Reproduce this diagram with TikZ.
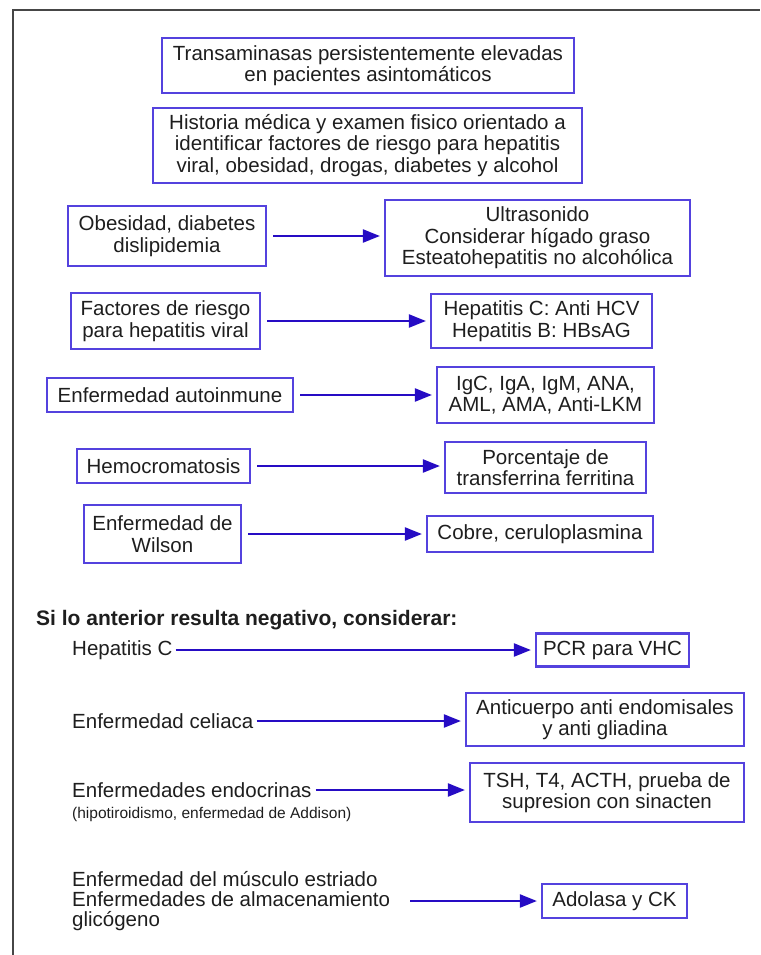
\documentclass[tikz,border=0pt]{standalone}
\usepackage{fontspec}
\setmainfont{Liberation Sans}
\usetikzlibrary{arrows.meta}

\definecolor{cajaazul}{RGB}{84,66,222}
\definecolor{flechaazul}{RGB}{38,12,196}
\definecolor{texto}{RGB}{30,30,30}
\definecolor{marco}{RGB}{70,70,70}

\tikzset{
  caja/.style={draw=cajaazul, line width=2.2pt, align=center, inner sep=0pt, text=texto},
  rotulo/.style={align=left, inner sep=0pt, text=texto, anchor=west},
  flecha/.style={draw=flechaazul, line width=2.2pt, -{Triangle[length=17pt,width=13pt]}, shorten >=4pt, shorten <=6pt},
}

\begin{document}
\begin{tikzpicture}[x=1pt, y=-1pt, font=\fontsize{20.5}{21.5}\selectfont]
\useasboundingbox (0,0) rectangle (760,955);

% marco
\draw [marco, line width=2.8pt] (13,955) -- (13,10) -- (760,10);

% cabecera
\node [caja, minimum width=412, minimum height=55] (trans) at (368,65.5)
  {Transaminasas persistentemente elevadas\\en pacientes asintomáticos};
\node [caja, minimum width=429, minimum height=75] (hist) at (367.5,145.5)
  {Historia médica y examen fisico orientado a\\identificar factores de riesgo para hepatitis\\viral, obesidad, drogas, diabetes y alcohol};

% factores de riesgo
\node [caja, minimum width=198, minimum height=60] (obes) at (167,236) {Obesidad, diabetes\\dislipidemia};
\node [caja, minimum width=305, minimum height=76] (ultra) at (537.5,238)
  {Ultrasonido\\Considerar hígado graso\\Esteatohepatitis no alcohólica};
\node [caja, minimum width=189, minimum height=56] (fact) at (165.5,321) {Factores de riesgo\\para hepatitis viral};
\node [caja, minimum width=221, minimum height=54] (hcv) at (541.5,321) {Hepatitis C: Anti HCV\\Hepatitis B: HBsAG};
\node [caja, minimum width=246, minimum height=34] (auto) at (170,395) {Enfermedad autoinmune};
\node [caja, minimum width=217, minimum height=56] (igc) at (545.5,395) {IgC, IgA, IgM, ANA,\\AML, AMA, Anti-LKM};
\node [caja, minimum width=173, minimum height=34] (hemo) at (163.5,466) {Hemocromatosis};
\node [caja, minimum width=201, minimum height=51] (porc) at (545.5,467.5) {Porcentaje de\\transferrina ferritina};
\node [caja, minimum width=157, minimum height=58] (wils) at (162.5,534) {Enfermedad de\\Wilson};
\node [caja, minimum width=226, minimum height=36] (cobre) at (540,534) {Cobre, ceruloplasmina};

\draw [flecha] (obes.east) -- (obes.east -| ultra.west);
\draw [flecha] (fact.east) -- (fact.east -| hcv.west);
\draw [flecha] (auto.east) -- (auto.east -| igc.west);
\draw [flecha] (hemo.east) -- (hemo.east -| porc.west);
\draw [flecha] (wils.east) -- (wils.east -| cobre.west);

% si resulta negativo
\node [rotulo, font=\fontsize{21}{22}\selectfont\bfseries] (neg) at (36,620) {Si lo anterior resulta negativo, considerar:};

\node [rotulo] (hepc) at (72,650) {Hepatitis C};
\node [caja, minimum width=153, minimum height=33] (pcr) at (612.5,650) {PCR para VHC};
\node [rotulo] (celi) at (72,721) {Enfermedad celiaca};
\node [caja, minimum width=278, minimum height=53] (anti) at (605,719.5) {Anticuerpo anti endomisales\\y anti gliadina};
\node [rotulo] (endo) at (72,790) {Enfermedades endocrinas};
\node [rotulo, font=\fontsize{15.5}{17}\selectfont] (hipo) at (72,814) {(hipotiroidismo, enfermedad de Addison)};
\node [caja, minimum width=274, minimum height=59] (tsh) at (607,792.5) {TSH, T4, ACTH, prueba de\\supresion con sinacten};
\node [rotulo, font=\fontsize{20.5}{20}\selectfont] (musc) at (72,901)
  {Enfermedad del músculo estriado\\Enfermedades de almacenamiento\\glicógeno};
\node [caja, minimum width=145, minimum height=34] (ck) at (614.5,901) {Adolasa y CK};

\draw [flecha, shorten <=3pt] (hepc.east) -- (hepc.east -| pcr.west);
\draw [flecha, shorten <=3pt] (celi.east) -- (celi.east -| anti.west);
\draw [flecha, shorten <=4pt] (endo.east) -- (endo.east -| tsh.west);
\draw [flecha, shorten <=20pt] (musc.east) -- (musc.east -| ck.west);

\end{tikzpicture}
\end{document}
